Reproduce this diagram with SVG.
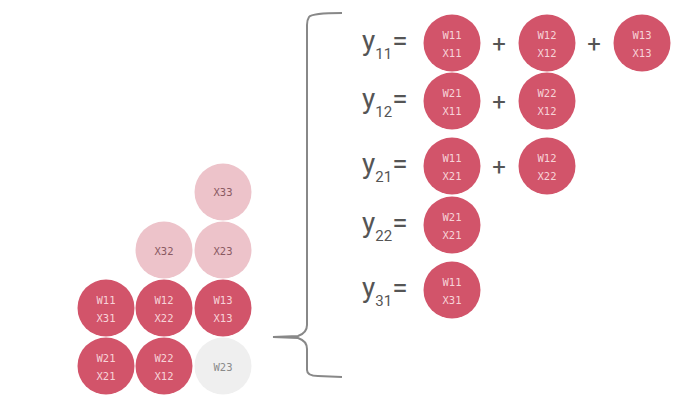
<svg xmlns="http://www.w3.org/2000/svg" width="692" height="409" viewBox="0 0 692 409">
<style>
.d{fill:#d2546a}
.l{fill:#edc3ca}
.g{fill:#efefef}
.t{font-family:"DejaVu Sans Mono","Liberation Mono",monospace;font-size:10.5px;text-anchor:middle;dominant-baseline:central}
.td{fill:#f7d3d8}
.tl{fill:#8a5a62}
.tg{fill:#8a8a8a}
.y{font-family:Roboto,"Liberation Sans",sans-serif;fill:#555;font-size:28px}
.s{font-size:15px}
.p{font-family:Roboto,"Liberation Sans",sans-serif;fill:#555;font-size:24px;text-anchor:middle}
.br{fill:none;stroke:#888;stroke-width:2}
</style>
<rect width="692" height="409" fill="#fff"/>
<g id="connectors">
<path class="br" d="M342,13 Q312,13 309,17 Q307,20 307,25 L307,325 Q307,333 298,336 L273,337 L298,338 Q307,341 307,349 L307,370 Q307,376 318,376 L342,377"/>
</g>
<g id="grid">
<g id="g-x33"><circle class="l" cx="223" cy="192" r="28.5"/><text class="t tl" x="223" y="192">X33</text></g>
<g id="g-x32"><circle class="l" cx="164" cy="250" r="28.5"/><text class="t tl" x="164" y="251">X32</text></g>
<g id="g-x23"><circle class="l" cx="223" cy="250" r="28.5"/><text class="t tl" x="223" y="251">X23</text></g>
<g id="g-w11x31"><circle class="d" cx="106" cy="308" r="28.5"/><text class="t td" x="106" y="300">W11</text><text class="t td" x="106" y="318">X31</text></g>
<g id="g-w12x22"><circle class="d" cx="164" cy="308" r="28.5"/><text class="t td" x="164" y="300">W12</text><text class="t td" x="164" y="318">X22</text></g>
<g id="g-w13x13"><circle class="d" cx="223" cy="308" r="28.5"/><text class="t td" x="223" y="300">W13</text><text class="t td" x="223" y="318">X13</text></g>
<g id="g-w21x21"><circle class="d" cx="106" cy="366" r="28.5"/><text class="t td" x="106" y="358">W21</text><text class="t td" x="106" y="376">X21</text></g>
<g id="g-w22x12"><circle class="d" cx="164" cy="366" r="28.5"/><text class="t td" x="164" y="358">W22</text><text class="t td" x="164" y="376">X12</text></g>
<g id="g-w23"><circle class="g" cx="223" cy="366" r="28.5"/><text class="t tg" x="223" y="367">W23</text></g>
</g>
<g id="eq-y11">
<text class="y" x="362" y="50">y<tspan class="s" dy="9">11</tspan><tspan dy="-9">=</tspan></text>
<circle class="d" cx="452" cy="43" r="28.5"/><text class="t td" x="452" y="35">W11</text><text class="t td" x="452" y="53">X11</text>
<text class="p" x="499" y="52">+</text>
<circle class="d" cx="547" cy="43" r="28.5"/><text class="t td" x="547" y="35">W12</text><text class="t td" x="547" y="53">X12</text>
<text class="p" x="594" y="52">+</text>
<circle class="d" cx="642" cy="43" r="28.5"/><text class="t td" x="642" y="35">W13</text><text class="t td" x="642" y="53">X13</text>
</g>
<g id="eq-y12">
<text class="y" x="362" y="108">y<tspan class="s" dy="9">12</tspan><tspan dy="-9">=</tspan></text>
<circle class="d" cx="452" cy="101" r="28.5"/><text class="t td" x="452" y="93">W21</text><text class="t td" x="452" y="111">X11</text>
<text class="p" x="499" y="110">+</text>
<circle class="d" cx="547" cy="101" r="28.5"/><text class="t td" x="547" y="93">W22</text><text class="t td" x="547" y="111">X12</text>
</g>
<g id="eq-y21">
<text class="y" x="362" y="173">y<tspan class="s" dy="9">21</tspan><tspan dy="-9">=</tspan></text>
<circle class="d" cx="452" cy="166" r="28.5"/><text class="t td" x="452" y="158">W11</text><text class="t td" x="452" y="176">X21</text>
<text class="p" x="499" y="175">+</text>
<circle class="d" cx="547" cy="166" r="28.5"/><text class="t td" x="547" y="158">W12</text><text class="t td" x="547" y="176">X22</text>
</g>
<g id="eq-y22">
<text class="y" x="362" y="232">y<tspan class="s" dy="9">22</tspan><tspan dy="-9">=</tspan></text>
<circle class="d" cx="452" cy="225" r="28.5"/><text class="t td" x="452" y="217">W21</text><text class="t td" x="452" y="235">X21</text>
</g>
<g id="eq-y31">
<text class="y" x="362" y="297">y<tspan class="s" dy="9">31</tspan><tspan dy="-9">=</tspan></text>
<circle class="d" cx="452" cy="290" r="28.5"/><text class="t td" x="452" y="282">W11</text><text class="t td" x="452" y="300">X31</text>
</g>
</svg>
